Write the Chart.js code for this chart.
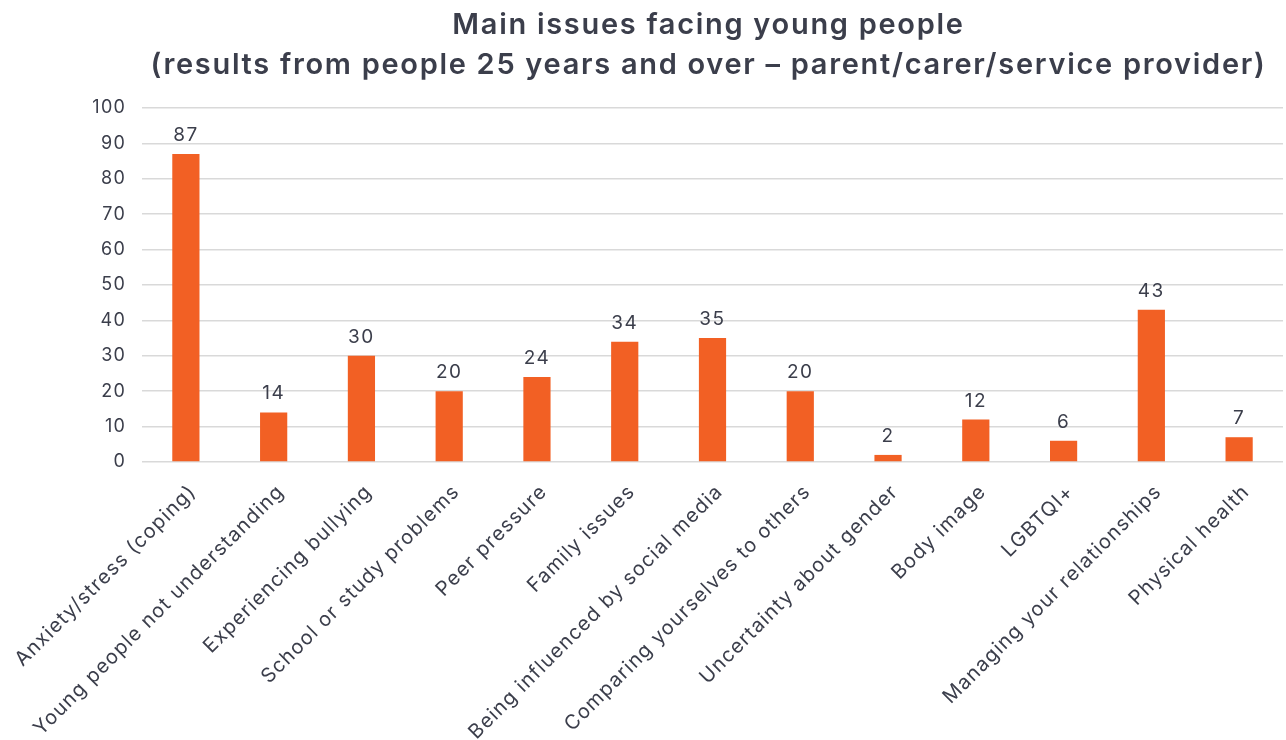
<!DOCTYPE html>
<html>
<head>
<meta charset="utf-8">
<script src="https://cdn.jsdelivr.net/npm/chart.js@4"></script>
<style>
  html, body { margin: 0; padding: 0; background: #fff; }
  #wrap { width: 1286px; height: 740px; }
</style>
</head>
<body>
<div id="wrap"><canvas id="myChart"></canvas></div>
<script>
const categorias = [
  'Anxiety/stress (coping)',
  'Young people not understanding',
  'Experiencing bullying',
  'School or study problems',
  'Peer pressure',
  'Family issues',
  'Being influenced by social media',
  'Comparing yourselves to others',
  'Uncertainty about gender',
  'Body image',
  'LGBTQI+',
  'Managing your relationships',
  'Physical health'
]
const valores = [87, 14, 30, 20, 24, 34, 35, 20, 2, 12, 6, 43, 7]
const titulo = [
  'Main issues facing young people',
  '(results from people 25 years and over \u2013 parent/carer/service provider)'
]

const fonte = 'Inter, "Open Sans", sans-serif'
const corTexto = '#3b3e4b'

// the original font is wider, so a bit of letter spacing on all the text
const espacamento = {
  id: 'espacamento',
  beforeDraw(chart) {
    chart.ctx.letterSpacing = '1.2px'
  }
}

// title centred over the plot area, and the numbers on top of each bar
const extras = {
  id: 'extras',
  afterDraw(chart) {
    const c = chart.ctx
    const area = chart.chartArea
    c.save()
    c.fillStyle = corTexto
    c.textAlign = 'center'
    c.textBaseline = 'middle'
    c.letterSpacing = '1.7px'
    c.font = '600 29px ' + fonte
    c.fillText(titulo[0], (area.left + area.right) / 2 - 4, 25)
    c.fillText(titulo[1], (area.left + area.right) / 2 - 4, 65)

    c.letterSpacing = '1.5px'
    c.font = '19px ' + fonte
    c.textBaseline = 'alphabetic'
    const meta = chart.getDatasetMeta(0)
    meta.data.forEach((bar, i) => {
      c.fillText(valores[i], bar.x, bar.y - 13)
    })
    c.restore()
  }
}

const ctx = document.getElementById('myChart')
new Chart(ctx, {
  type: 'bar',
  data: {
    labels: categorias,
    datasets: [{
      data: valores,
      backgroundColor: '#f26024',
      categoryPercentage: 1,
      barPercentage: 0.31
    }]
  },
  options: {
    responsive: true,
    maintainAspectRatio: false,
    animation: false,
    layout: { padding: { top: 108, right: 3, left: 0, bottom: 0 } },
    plugins: {
      legend: { display: false },
      tooltip: { enabled: false }
    },
    scales: {
      x: {
        grid: { display: false },
        border: { display: false },
        ticks: {
          autoSkip: false,
          minRotation: 45,
          maxRotation: 45,
          color: corTexto,
          font: { family: fonte, size: 20 },
          padding: 10,
          labelOffset: 7
        },
        afterFit(scale) { scale.height = 278 }
      },
      y: {
        min: 0,
        max: 100,
        grid: { color: '#d9d9d9', lineWidth: 1.5, drawTicks: false },
        border: { display: false },
        ticks: {
          stepSize: 10,
          color: corTexto,
          font: { family: fonte, size: 18 },
          padding: 16
        },
        afterFit(scale) { scale.width = 142 }
      }
    }
  },
  plugins: [espacamento, extras]
})
</script>
</body>
</html>
